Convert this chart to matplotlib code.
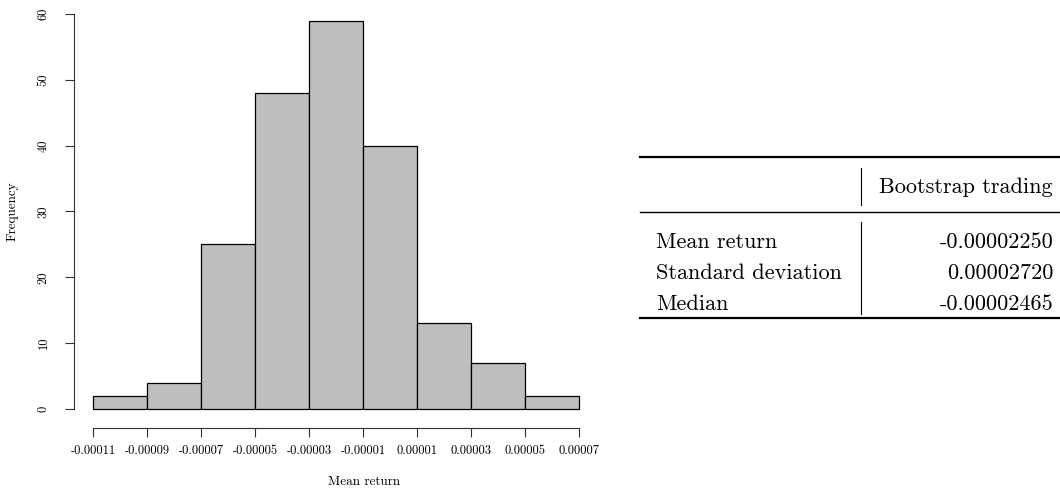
import matplotlib
matplotlib.use("Agg")
import matplotlib.pyplot as plt

# histogram data
bin_edges = [-0.00011, -0.00009, -0.00007, -0.00005, -0.00003, -0.00001,
             0.00001, 0.00003, 0.00005, 0.00007]
counts = [2, 4, 25, 48, 59, 40, 13, 7, 2]
y_ticks = [0, 10, 20, 30, 40, 50, 60]
x_tick_labels = ["-0.00011", "-0.00009", "-0.00007", "-0.00005", "-0.00003",
                 "-0.00001", "0.00001", "0.00003", "0.00005", "0.00007"]

# summary table
column_header = "Bootstrap trading"
stat_names = ["Mean return", "Standard deviation", "Median"]
stat_values = ["-0.00002250", "0.00002720", "-0.00002465"]

plt.rcParams['font.family'] = ['cmr10', 'DejaVu Serif']
plt.rcParams['axes.unicode_minus'] = False
plt.rcParams['mathtext.fontset'] = 'cm'

W, H = 1060, 488
fig = plt.figure(figsize=(W / 100, H / 100), dpi=100)

# histogram axes, placed in pixels
left, right, bottom, top = 74, 598, 428, 4.8
ax = fig.add_axes([left / W, 1 - bottom / H, (right - left) / W, (bottom - top) / H])
widths = [b - a for a, b in zip(bin_edges[:-1], bin_edges[1:])]
ax.bar(bin_edges[:-1], counts, width=widths, align='edge',
       color='#bebebe', edgecolor='black', linewidth=0.9)

span = bin_edges[-1] - bin_edges[0]
ax.set_xlim(bin_edges[0] - 0.04 * span, bin_edges[-1] + 0.04 * span)
ax.set_ylim(-2.89, 61.4)

for s in ['top', 'right']:
    ax.spines[s].set_visible(False)
ax.spines['left'].set_bounds(y_ticks[0], y_ticks[-1])
ax.spines['bottom'].set_bounds(bin_edges[0], bin_edges[-1])
for s in ['left', 'bottom']:
    ax.spines[s].set_linewidth(0.8)
    ax.spines[s].set_color('#333333')

ax.set_yticks(y_ticks)
ax.set_yticklabels([str(v) for v in y_ticks], rotation=90, va='center')
ax.set_xticks(bin_edges)
ax.set_xticklabels(x_tick_labels)
ax.tick_params(axis='y', length=6.5, width=0.8, pad=11, labelsize=9, color='#333333')
ax.tick_params(axis='x', length=6.5, width=0.8, pad=6, labelsize=9, color='#333333')

fig.text(13 / W, 1 - 211 / H, "Frequency", rotation=90, ha='center', va='center', fontsize=9.5)
fig.text(364 / W, 1 - 482 / H, "Mean return", ha='center', va='center', fontsize=9.5)

# table drawn on a pixel-space overlay
tab = fig.add_axes([0, 0, 1, 1])
tab.set_xlim(0, W)
tab.set_ylim(H, 0)
tab.axis('off')

rule_x0, rule_x1 = 640, W
sep_x = 861
tab.plot([rule_x0, rule_x1], [157, 157], color='black', lw=1.6)
tab.plot([rule_x0, rule_x1], [212, 212], color='black', lw=1.0)
tab.plot([sep_x, sep_x], [168, 205], color='black', lw=0.8)
tab.text(1053, 187, column_header, ha='right', va='center', fontsize=16)

row_y0, row_step = 242, 31
for i, (name, val) in enumerate(zip(stat_names, stat_values)):
    y = row_y0 + i * row_step
    tab.text(656, y, name, ha='left', va='center', fontsize=16)
    tab.text(1053, y, val, ha='right', va='center', fontsize=16)
last_y = row_y0 + (len(stat_names) - 1) * row_step
tab.plot([sep_x, sep_x], [222, last_y + 10], color='black', lw=0.8)
tab.plot([rule_x0, rule_x1], [last_y + 14, last_y + 14], color='black', lw=1.6)

fig.savefig("out.png", dpi=100)
